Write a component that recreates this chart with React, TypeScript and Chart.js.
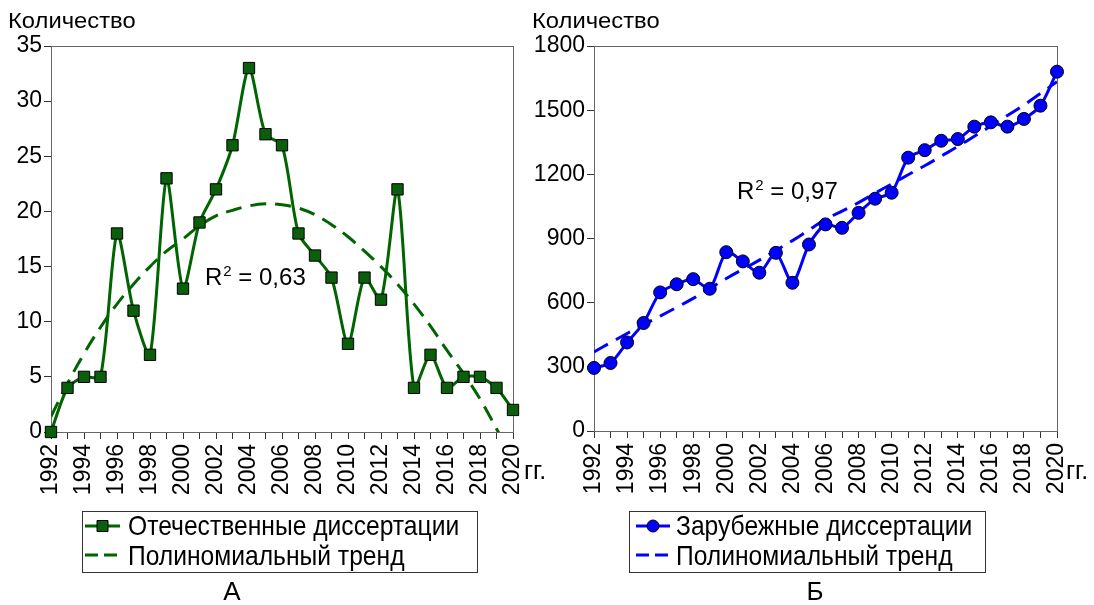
import React, { useEffect, useRef } from 'react';
import { Chart, registerables } from 'chart.js';

Chart.register(...registerables);

// ---------- DATA ----------
const years = [
  1992, 1993, 1994, 1995, 1996, 1997, 1998, 1999, 2000, 2001, 2002, 2003, 2004, 2005, 2006,
  2007, 2008, 2009, 2010, 2011, 2012, 2013, 2014, 2015, 2016, 2017, 2018, 2019, 2020,
];
const domesticTheses = [0, 4, 5, 5, 18, 11, 7, 23, 13, 19, 22, 26, 33, 27, 26, 18, 16, 14, 8, 14, 12, 22, 4, 7, 4, 5, 5, 4, 2];
const domesticTrend = [
  1.4, 4.4, 7.1, 9.5, 11.6, 13.4, 15.0, 16.4, 17.5, 18.7, 19.6, 20.1, 20.5, 20.7, 20.6,
  20.3, 19.7, 18.8, 17.7, 16.4, 15.0, 13.4, 11.6, 9.6, 7.4, 5.3, 3.0, 0.3, -2.5,
];
const foreignTheses = [
  295, 318, 414, 505, 648, 686, 710, 665, 836, 793, 740, 833, 693, 872, 966,
  950, 1020, 1086, 1114, 1278, 1313, 1357, 1365, 1423, 1443, 1423, 1459, 1521, 1680,
];
const foreignTrend = [
  370, 413, 456, 497, 537, 578, 620, 666, 713, 756, 799, 845, 890, 940, 990,
  1028, 1068, 1112, 1155, 1198, 1240, 1285, 1330, 1378, 1426, 1475, 1524, 1578, 1633,
];
const xTickLabels = [1992, 1994, 1996, 1998, 2000, 2002, 2004, 2006, 2008, 2010, 2012, 2014, 2016, 2018, 2020];
const domesticYTicks = [0, 5, 10, 15, 20, 25, 30, 35];
const foreignYTicks = [0, 300, 600, 900, 1200, 1500, 1800];
const domesticLegend = ['Отечественные диссертации', 'Полиномиальный тренд'];
const foreignLegend = ['Зарубежные диссертации', 'Полиномиальный тренд'];
const domesticR2 = '0,63';
const foreignR2 = '0,97';
const yTitle = 'Количество';
const xUnit = 'гг.';

// ---------- STYLE / LAYOUT ----------
const FONT = "'Liberation Sans', Arial, sans-serif";
const H = 605;

type Panel = {
  canvasLeft: number;
  width: number;
  area: { left: number; right: number; top: number; bottom: number };
  values: number[];
  trend: number[];
  yTicks: number[];
  color: string;
  fill: string;
  pointStyle: 'rect' | 'circle';
  pointRadius: number;
  legend: string[];
  r2: string;
  r2Pos: [number, number];
  titlePos: [number, number];
  unitPos: [number, number];
  legendBox: [number, number, number, number];
  markerX: [number, number];
  legendTextX: number;
  caption: string;
  captionX: number;
  yTickPad: number;
};

const panels: Panel[] = [
  {
    canvasLeft: 0,
    width: 560,
    area: { left: 51, right: 513, top: 46, bottom: 432 },
    values: domesticTheses,
    trend: domesticTrend,
    yTicks: domesticYTicks,
    color: '#006400',
    fill: '#0b5e0b',
    pointStyle: 'rect',
    pointRadius: 8,
    legend: domesticLegend,
    r2: domesticR2,
    r2Pos: [205, 285],
    titlePos: [8, 28],
    unitPos: [524, 479],
    legendBox: [82, 511, 395, 61],
    markerX: [85, 120],
    legendTextX: 128,
    caption: 'А',
    captionX: 232,
    yTickPad: 2,
  },
  {
    canvasLeft: 520,
    width: 574,
    area: { left: 74, right: 537, top: 46, bottom: 431 },
    values: foreignTheses,
    trend: foreignTrend,
    yTicks: foreignYTicks,
    color: '#0000ff',
    fill: '#0000ff',
    pointStyle: 'circle',
    pointRadius: 6.5,
    legend: foreignLegend,
    r2: foreignR2,
    r2Pos: [217, 199],
    titlePos: [12, 28],
    unitPos: [546, 479],
    legendBox: [109, 511, 356, 61],
    markerX: [116, 150],
    legendTextX: 156,
    caption: 'Б',
    captionX: 295,
    yTickPad: 2,
  },
];

function drawText(
  ctx: CanvasRenderingContext2D,
  str: string,
  x: number,
  y: number,
  size: number,
  align: CanvasTextAlign = 'left',
  scaleX = 1,
) {
  ctx.save();
  ctx.font = `${size}px ${FONT}`;
  ctx.fillStyle = '#000';
  ctx.textBaseline = 'alphabetic';
  ctx.textAlign = align;
  ctx.translate(x, y);
  ctx.scale(scaleX, 1);
  ctx.fillText(str, 0, 0);
  ctx.restore();
}

function decorPlugin(p: Panel) {
  return {
    id: 'decor',
    beforeDatasetsDraw(chart: any) {
      const { ctx, chartArea: a } = chart;
      ctx.save();
      ctx.strokeStyle = '#666';
      ctx.lineWidth = 1;
      ctx.strokeRect(Math.round(a.left) + 0.5, Math.round(a.top) + 0.5, Math.round(a.right - a.left), Math.round(a.bottom - a.top));
      ctx.restore();
    },
    afterDraw(chart: any) {
      const ctx: CanvasRenderingContext2D = chart.ctx;
      // axis title and unit
      drawText(ctx, yTitle, p.titlePos[0], p.titlePos[1], 22, 'left', 1.08);
      drawText(ctx, xUnit, p.unitPos[0], p.unitPos[1], 25);
      // R^2 annotation
      let [rx, ry] = p.r2Pos;
      ctx.font = `24px ${FONT}`;
      drawText(ctx, 'R', rx, ry, 24);
      rx += ctx.measureText('R').width + 1;
      drawText(ctx, '2', rx, ry - 9, 15);
      ctx.font = `15px ${FONT}`;
      rx += ctx.measureText('2').width;
      drawText(ctx, ' = ' + p.r2, rx, ry, 24);
      // legend box
      const [bx, by, bw, bh] = p.legendBox;
      ctx.save();
      ctx.strokeStyle = '#333';
      ctx.lineWidth = 1;
      ctx.strokeRect(bx + 0.5, by + 0.5, bw, bh);
      // row 1 marker
      const y1 = by + 15;
      const y2 = by + 44;
      ctx.strokeStyle = p.color;
      ctx.lineWidth = 3;
      ctx.beginPath();
      ctx.moveTo(p.markerX[0], y1);
      ctx.lineTo(p.markerX[1], y1);
      ctx.stroke();
      const mx = (p.markerX[0] + p.markerX[1]) / 2;
      ctx.fillStyle = p.fill;
      ctx.strokeStyle = '#000';
      ctx.lineWidth = 1;
      ctx.beginPath();
      if (p.pointStyle === 'rect') {
        ctx.rect(mx - 5.5, y1 - 5.5, 11, 11);
      } else {
        ctx.arc(mx, y1, 6, 0, Math.PI * 2);
      }
      ctx.fill();
      ctx.stroke();
      // row 2 marker (dashed)
      ctx.strokeStyle = p.color;
      ctx.lineWidth = 3;
      ctx.setLineDash([13, 6]);
      ctx.beginPath();
      ctx.moveTo(p.markerX[0], y2);
      ctx.lineTo(p.markerX[1], y2);
      ctx.stroke();
      ctx.restore();
      drawText(ctx, p.legend[0], p.legendTextX, by + 24, 28, 'left', 0.88);
      drawText(ctx, p.legend[1], p.legendTextX, by + 54, 28, 'left', 0.88);
      // caption
      drawText(ctx, p.caption, p.captionX, 600, 26, 'center');
    },
  };
}

function buildConfig(p: Panel): any {
  const pts = (arr: number[]) => years.map((x, i) => ({ x, y: arr[i] }));
  const yStep = p.yTicks[1] - p.yTicks[0];
  return {
    type: 'line',
    data: {
      datasets: [
        {
          label: p.legend[0],
          data: pts(p.values),
          borderColor: p.color,
          backgroundColor: p.fill,
          borderWidth: 3,
          tension: 0.25,
          pointStyle: p.pointStyle,
          pointRadius: p.pointRadius,
          pointBackgroundColor: p.fill,
          pointBorderColor: '#000',
          pointBorderWidth: 1,
          clip: false,
          order: 0,
        },
        {
          label: p.legend[1],
          data: pts(p.trend),
          borderColor: p.color,
          borderWidth: 3,
          borderDash: [16, 9],
          tension: 0.4,
          pointRadius: 0,
          clip: 0,
          order: 1,
        },
      ],
    },
    options: {
      responsive: false,
      animation: false,
      devicePixelRatio: 1,
      events: [],
      layout: {
        padding: { left: 0, top: p.area.top, right: p.width - p.area.right, bottom: 0 },
      },
      plugins: {
        legend: { display: false },
        tooltip: { enabled: false },
        title: { display: false },
      },
      scales: {
        x: {
          type: 'linear',
          min: years[0],
          max: years[years.length - 1],
          afterFit: (s: any) => {
            s.height = H - p.area.bottom;
          },
          grid: { drawOnChartArea: false, drawTicks: true, tickLength: 7, color: '#333' },
          border: { display: true, color: '#333', width: 1 },
          ticks: {
            stepSize: 1,
            autoSkip: false,
            minRotation: 90,
            maxRotation: 90,
            padding: 5,
            color: '#000',
            font: { family: FONT, size: 23 },
            callback: (v: number) => (xTickLabels.includes(v) ? String(v) : ''),
          },
        },
        y: {
          min: p.yTicks[0],
          max: p.yTicks[p.yTicks.length - 1],
          afterFit: (s: any) => {
            s.width = p.area.left;
          },
          grid: { drawOnChartArea: false, drawTicks: true, tickLength: 7, color: '#333' },
          border: { display: true, color: '#333', width: 1 },
          ticks: {
            stepSize: yStep,
            padding: p.yTickPad,
            color: '#000',
            font: { family: FONT, size: 23 },
            callback: (v: number) => String(v),
          },
        },
      },
    },
    plugins: [decorPlugin(p)],
  };
}

function ChartCanvas({ panel }: { panel: Panel }) {
  const ref = useRef<HTMLCanvasElement>(null);
  useEffect(() => {
    if (!ref.current) return;
    const chart = new Chart(ref.current, buildConfig(panel));
    return () => chart.destroy();
  }, [panel]);
  return (
    <canvas
      ref={ref}
      width={panel.width}
      height={H}
      style={{ position: 'absolute', left: panel.canvasLeft, top: 0, width: panel.width, height: H }}
    />
  );
}

export default function App() {
  return (
    <div style={{ position: 'absolute', left: 0, top: 0, width: 1094, height: H, background: '#fff', overflow: 'hidden' }}>
      {panels.map((p, i) => (
        <ChartCanvas key={i} panel={p} />
      ))}
    </div>
  );
}
